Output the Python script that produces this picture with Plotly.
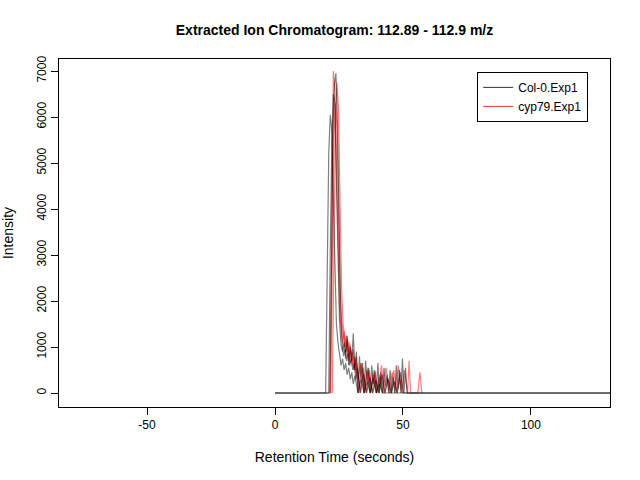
import plotly.graph_objects as go

# retention time (s) and intensity for each run
col_t1 = [0, 21.4, 22.0, 22.6, 23.2, 23.8, 24.4, 25.0, 25.6, 26.2, 26.8, 27.4, 28.0, 28.6, 29.2, 29.8,
          30.4, 31.0, 31.6, 32.2, 33.4, 34.6, 35.8, 37.0, 38.2, 39.4, 40.6, 41.8, 43.0, 44.2, 45.4,
          46.6, 47.8, 49.0, 50.2, 51.4, 140]
col_y1 = [0, 0, 2400, 5600, 6700, 6950, 5900, 3600, 1900, 1150, 800, 950, 700, 850, 600, 750,
          500, 650, 300, 550, 0, 420, 0, 350, 0, 280, 0, 400, 0, 300, 0,
          250, 0, 450, 0, 0, 0]

col_t2 = [0, 19.8, 20.4, 21.0, 21.6, 22.2, 22.8, 23.4, 24.0, 24.6, 25.2, 25.8, 26.4, 27.0, 27.6, 28.2,
          28.8, 29.4, 30.0, 30.6, 31.2, 32.4, 33.6, 34.8, 36.0, 37.2, 38.4, 39.6, 40.8, 42.0, 140]
col_y2 = [0, 0, 2600, 5200, 6050, 5700, 4200, 2500, 1500, 1100, 850, 600, 750, 500, 650, 400,
          550, 300, 450, 200, 380, 0, 300, 0, 250, 0, 320, 0, 200, 0, 0]

col_t3 = [0, 21.0, 21.6, 22.2, 22.8, 23.4, 24.0, 24.6, 25.2, 25.8, 26.4, 27.0, 27.6, 28.2, 28.8, 29.4,
          30.0, 30.6, 31.2, 31.8, 32.4, 33.0, 33.6, 34.2, 34.8, 35.4, 36.0, 36.6, 37.2, 37.8, 38.4,
          39.0, 39.6, 40.2, 40.8, 41.4, 42.0, 42.6, 43.2, 43.8, 44.4, 45.0, 45.6, 46.2, 46.8, 47.4,
          48.0, 48.6, 49.2, 49.8, 50.4, 51.0, 51.6, 52.2, 52.8, 140]
col_y3 = [0, 0, 3100, 5400, 6500, 6300, 4600, 2700, 1600, 1050, 900, 1100, 750, 1250, 600, 1000,
          700, 1300, 500, 900, 0, 800, 300, 650, 0, 700, 250, 550, 0, 600, 200,
          500, 0, 650, 0, 450, 0, 550, 150, 400, 0, 500, 0, 350, 0, 600,
          100, 500, 0, 750, 0, 550, 0, 0, 0, 0]

cyp_t1 = [21.6, 22.2, 22.8, 23.4, 24.0, 24.6, 25.2, 25.8, 26.4, 27.0, 27.6, 28.2, 28.8, 29.4, 30.0,
          30.6, 31.2, 31.8, 32.4, 33.6, 34.8, 36.0, 37.2, 38.4, 39.6, 40.8, 42.0]
cyp_y1 = [0, 3500, 7000, 6600, 5200, 3300, 1900, 1400, 1100, 1350, 900, 1200, 800, 1050, 700,
          950, 500, 800, 300, 650, 0, 500, 0, 400, 0, 350, 0]

cyp_t2 = [22.4, 23.0, 23.6, 24.2, 24.8, 25.4, 26.0, 26.6, 27.2, 27.8, 28.4, 29.0, 29.6, 30.2, 30.8,
          31.4, 32.0, 33.2, 34.4, 35.6, 36.8, 38.0, 39.2, 40.4, 41.6, 42.8, 44.0, 45.2, 46.4, 47.6,
          48.8, 50.0]
cyp_y2 = [0, 3000, 5800, 6750, 6200, 4200, 2300, 1500, 1200, 900, 1150, 700, 950, 600, 800,
          450, 650, 0, 550, 0, 500, 0, 450, 0, 600, 0, 350, 0, 500, 0,
          300, 0]

cyp_t3 = [21.8, 22.4, 23.0, 23.6, 24.2, 24.8, 25.4, 26.0, 26.6, 27.2, 27.8, 28.4, 29.0, 29.6, 30.2,
          30.8, 31.4, 32.6, 33.8, 35.0, 36.2, 37.4, 38.6, 39.8, 41.0, 42.2, 43.4, 44.6, 45.8, 47.0,
          48.2, 49.4, 50.6, 51.8, 52.4, 53.0, 55.8, 56.6, 57.4]
cyp_y3 = [0, 2800, 5600, 6300, 5800, 4000, 2400, 1600, 1300, 1000, 1250, 800, 1100, 650, 900,
          500, 750, 0, 650, 0, 550, 0, 480, 0, 400, 0, 550, 0, 450, 0,
          600, 0, 500, 0, 700, 0, 0, 450, 0]

x_ticks = [-50, 0, 50, 100]
x_labels = ["-50", "0", "50", "100"]
y_ticks = [0, 1000, 2000, 3000, 4000, 5000, 6000, 7000]

black = "rgba(0,0,0,0.5)"
red = "rgba(255,0,0,0.5)"

fig = go.Figure()
runs = [
    (cyp_t1, cyp_y1, red, "cyp79.Exp1", "cyp"),
    (cyp_t2, cyp_y2, red, "cyp79.Exp1", "cyp"),
    (cyp_t3, cyp_y3, red, "cyp79.Exp1", "cyp"),
    (col_t1, col_y1, black, "Col-0.Exp1", "col"),
    (col_t2, col_y2, black, "Col-0.Exp1", "col"),
    (col_t3, col_y3, black, "Col-0.Exp1", "col"),
]
for t, y, c, name, grp in runs:
    fig.add_trace(go.Scatter(x=t, y=y, mode="lines", name=name, showlegend=False,
                             legendgroup=grp, line=dict(color=c, width=1.2)))

# legend entries (solid colours, as in the reference key)
fig.add_trace(go.Scatter(x=[None], y=[None], mode="lines", name="Col-0.Exp1",
                         line=dict(color="rgba(0,0,0,0.8)", width=1)))
fig.add_trace(go.Scatter(x=[None], y=[None], mode="lines", name="cyp79.Exp1",
                         line=dict(color="rgba(255,0,0,0.8)", width=1)))

axis_style = dict(showline=True, linecolor="black", linewidth=1, mirror=True,
                  ticks="outside", ticklen=7, tickcolor="black", showgrid=False,
                  zeroline=False, automargin=False, tickfont=dict(size=12, color="black"))

fig.update_layout(
    width=640, height=480,
    paper_bgcolor="white", plot_bgcolor="white",
    font=dict(family="Liberation Sans, Arial, sans-serif", size=12, color="black"),
    margin=dict(l=59, r=30, t=59, b=73),
    title=dict(text="<b>Extracted Ion Chromatogram: 112.89 - 112.9 m/z</b>",
               x=0.5, xref="paper", y=0.937, yanchor="middle", font=dict(size=14)),
    xaxis=dict(range=[-84.4, 130.9], tickvals=x_ticks, ticktext=x_labels,
               title=dict(text="Retention Time (seconds)", standoff=20), **axis_style),
    yaxis=dict(range=[-304, 7261], tickvals=y_ticks,
               tickangle=-90, title=dict(text="Intensity", standoff=22), **axis_style),
    legend=dict(x=0.759, y=0.963, xanchor="left", yanchor="top",
                bordercolor="black", borderwidth=1, bgcolor="white",
                font=dict(size=12), tracegroupgap=0),
)

fig.write_html("out.html", config={"displayModeBar": False},
               post_script="document.body.style.margin='0';")
